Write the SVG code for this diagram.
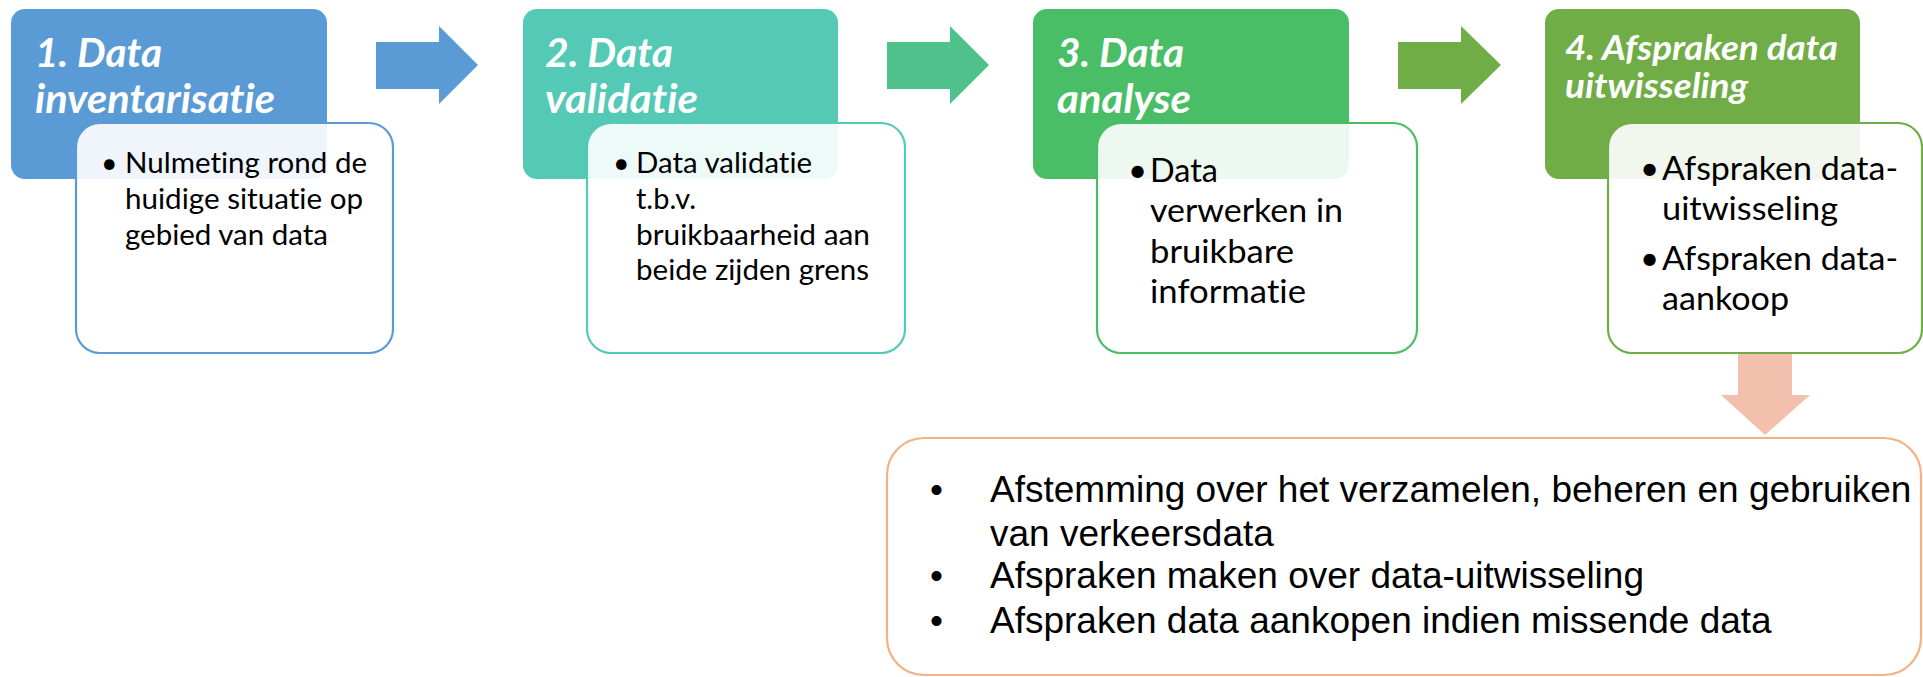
<svg xmlns="http://www.w3.org/2000/svg" width="1923" height="677" viewBox="0 0 1923 677">
<style>
.hdr{stroke:none}
.det{fill:#ffffff;fill-opacity:0.9;stroke-width:2.2}
.title{font-family:Lato,"Open Sans",sans-serif;font-weight:bold;font-style:italic;fill:#ffffff;font-variant-ligatures:none}
.body{font-family:Lato,"Open Sans",sans-serif;fill:#000000;font-variant-ligatures:none}
.big{font-family:"Liberation Sans",Arial,sans-serif;font-size:37px;fill:#000000}
</style>
<rect width="1923" height="677" fill="#ffffff"/>
<g id="connectors">
<polygon points="376,42 439,42 439,26 478,65 439,104 439,89 376,89" fill="#5B9BD5"/>
<polygon points="887,42 950,42 950,26 989,65 950,104 950,89 887,89" fill="#4EC28A"/>
<polygon points="1398,42 1461,42 1461,26 1501,65 1461,104 1461,89 1398,89" fill="#70AD47"/>
<polygon points="1738,354 1792,354 1792,395 1810,395 1765,435 1721,395 1738,395" fill="#F4C0AE"/>
</g>
<g id="step1">
<rect class="hdr" x="11" y="9" width="316" height="170" rx="14" fill="#5B9BD5"/>
<text class="title" font-size="40" x="35" y="67" textLength="127" lengthAdjust="spacingAndGlyphs">1. Data</text>
<text class="title" font-size="40" x="35" y="113" textLength="240" lengthAdjust="spacingAndGlyphs">inventarisatie</text>
<rect class="det" x="76" y="123" width="317" height="230" rx="24" stroke="#5B9BD5"/>
<text class="body" font-size="28.5" x="101" y="173">•</text>
<text class="body" font-size="28.5" x="125" y="173" textLength="242" lengthAdjust="spacingAndGlyphs">Nulmeting rond de</text>
<text class="body" font-size="28.5" x="125" y="209" textLength="238" lengthAdjust="spacingAndGlyphs">huidige situatie op</text>
<text class="body" font-size="28.5" x="125" y="245" textLength="203" lengthAdjust="spacingAndGlyphs">gebied van data</text>
</g>
<g id="step2">
<rect class="hdr" x="523" y="9" width="315" height="170" rx="14" fill="#54C9B5"/>
<text class="title" font-size="40" x="545" y="67" textLength="128" lengthAdjust="spacingAndGlyphs">2. Data</text>
<text class="title" font-size="40" x="545" y="113" textLength="153" lengthAdjust="spacingAndGlyphs">validatie</text>
<rect class="det" x="587" y="123" width="318" height="230" rx="24" stroke="#54C9B5"/>
<text class="body" font-size="28.5" x="613" y="173">•</text>
<text class="body" font-size="28.5" x="636" y="173" textLength="176" lengthAdjust="spacingAndGlyphs">Data validatie</text>
<text class="body" font-size="28.5" x="636" y="209" textLength="60" lengthAdjust="spacingAndGlyphs">t.b.v.</text>
<text class="body" font-size="28.5" x="636" y="245" textLength="234" lengthAdjust="spacingAndGlyphs">bruikbaarheid aan</text>
<text class="body" font-size="28.5" x="636" y="280" textLength="233" lengthAdjust="spacingAndGlyphs">beide zijden grens</text>
</g>
<g id="step3">
<rect class="hdr" x="1033" y="9" width="316" height="170" rx="14" fill="#4ABE66"/>
<text class="title" font-size="40" x="1057" y="67" textLength="127" lengthAdjust="spacingAndGlyphs">3. Data</text>
<text class="title" font-size="40" x="1057" y="113" textLength="134" lengthAdjust="spacingAndGlyphs">analyse</text>
<rect class="det" x="1097" y="123" width="320" height="230" rx="24" stroke="#4ABE66"/>
<text class="body" font-size="33" x="1128" y="182">•</text>
<text class="body" font-size="33" x="1150" y="182" textLength="68" lengthAdjust="spacingAndGlyphs">Data</text>
<text class="body" font-size="33" x="1150" y="222" textLength="193" lengthAdjust="spacingAndGlyphs">verwerken in</text>
<text class="body" font-size="33" x="1150" y="263" textLength="144" lengthAdjust="spacingAndGlyphs">bruikbare</text>
<text class="body" font-size="33" x="1150" y="303" textLength="156" lengthAdjust="spacingAndGlyphs">informatie</text>
</g>
<g id="step4">
<rect class="hdr" x="1545" y="9" width="315" height="170" rx="14" fill="#70AD47"/>
<text class="title" font-size="35" x="1565" y="60" textLength="273" lengthAdjust="spacingAndGlyphs">4. Afspraken data</text>
<text class="title" font-size="35" x="1565" y="98" textLength="183" lengthAdjust="spacingAndGlyphs">uitwisseling</text>
<rect class="det" x="1608" y="123" width="314" height="230" rx="24" stroke="#70AD47"/>
<text class="body" font-size="33" x="1640" y="180">•</text>
<text class="body" font-size="33" x="1662" y="180" textLength="236" lengthAdjust="spacingAndGlyphs">Afspraken data-</text>
<text class="body" font-size="33" x="1662" y="220" textLength="176" lengthAdjust="spacingAndGlyphs">uitwisseling</text>
<text class="body" font-size="33" x="1640" y="270">•</text>
<text class="body" font-size="33" x="1662" y="270" textLength="236" lengthAdjust="spacingAndGlyphs">Afspraken data-</text>
<text class="body" font-size="33" x="1662" y="310" textLength="127" lengthAdjust="spacingAndGlyphs">aankoop</text>
</g>
<g id="summary">
<rect x="887" y="438" width="1034" height="237" rx="37" fill="#ffffff" stroke="#F4B183" stroke-width="2.2"/>
<text class="big"><tspan x="930" y="502">•</tspan><tspan x="990" y="502">Afstemming over het verzamelen, beheren en gebruiken</tspan><tspan x="990" y="546">van verkeersdata</tspan><tspan x="930" y="588">•</tspan><tspan x="990" y="588">Afspraken maken over data-uitwisseling</tspan><tspan x="930" y="633">•</tspan><tspan x="990" y="633">Afspraken data aankopen indien missende data</tspan></text>
</g>
</svg>
